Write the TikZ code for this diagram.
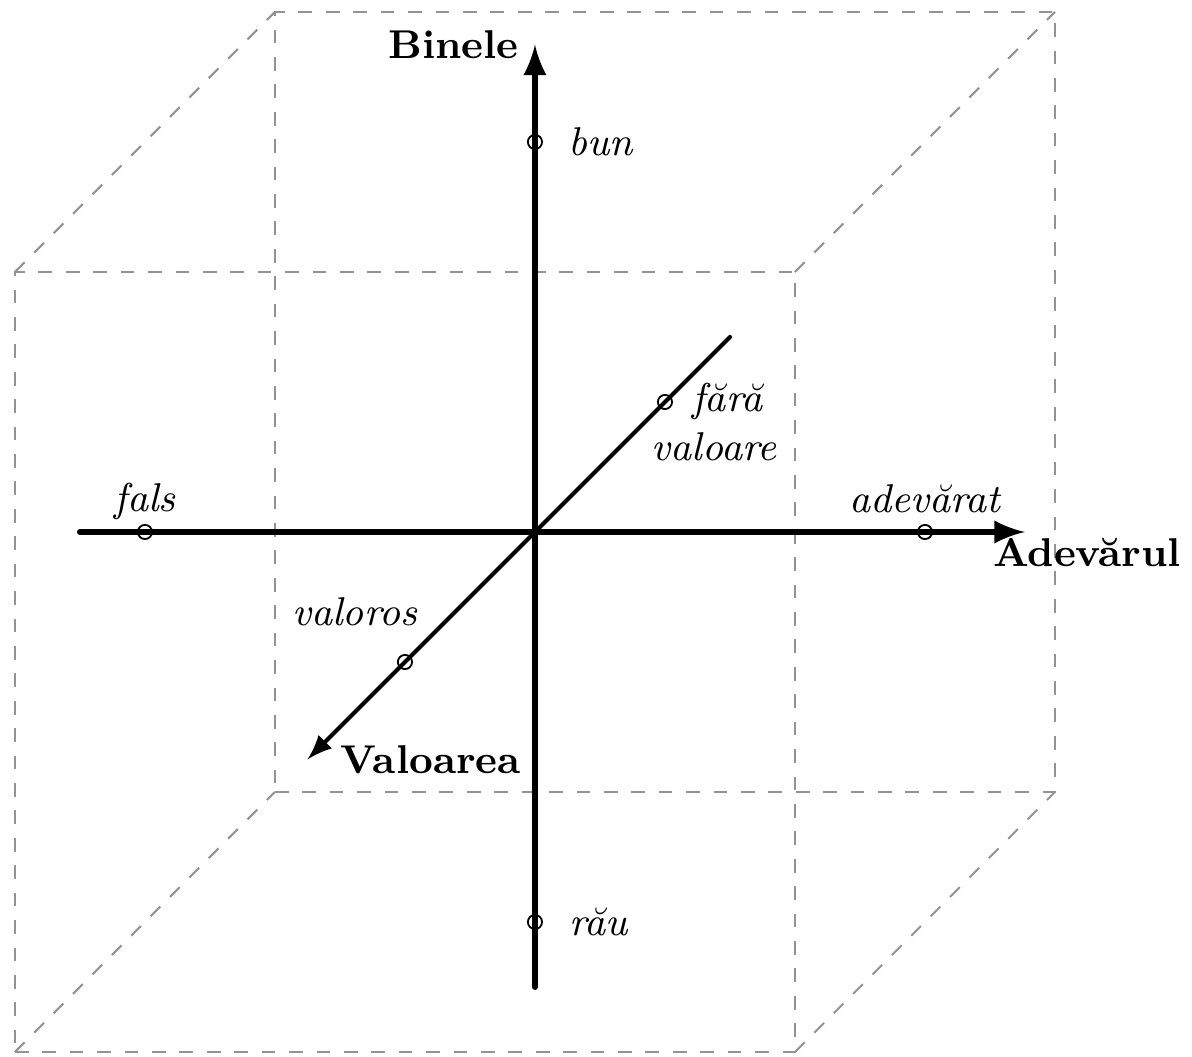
\documentclass[tikz,border=0pt]{standalone}
\usepackage{fontspec}
\begin{document}
\begin{tikzpicture}[line cap=round,>=latex,
  lbl/.style={font=\fontsize{8.8}{10.6}\selectfont\itshape},
  axlbl/.style={font=\fontsize{8.8}{10.6}\selectfont\bfseries},
  pt/.style={circle,draw,line width=0.4pt,inner sep=0pt,minimum size=3.1pt},
  cubeedge/.style={dashed,line cap=butt,gray!85,line width=0.45pt}]
  \useasboundingbox (-4.115,-4.038) rectangle (5.054,4.092);
  % cube corners
  \coordinate (fa) at (-4,-4);
  \coordinate (fb) at (2,-4);
  \coordinate (fc) at (2,2);
  \coordinate (fd) at (-4,2);
  \coordinate (ba) at (-2,-2);
  \coordinate (bb) at (4,-2);
  \coordinate (bc) at (4,4);
  \coordinate (bd) at (-2,4);
  \draw[cubeedge] (fa) -- (fb) -- (fc) -- (fd) -- cycle;
  \draw[cubeedge] (ba) -- (bb) -- (bc) -- (bd) -- cycle;
  \draw[cubeedge] (fa) -- (ba);
  \draw[cubeedge] (fb) -- (bb);
  \draw[cubeedge] (fc) -- (bc);
  \draw[cubeedge] (fd) -- (bd);
  % axes
  \coordinate (O) at (0,0);
  \coordinate (xl) at (-3.5,0);
  \coordinate (xr) at (3.77,0);
  \coordinate (yb) at (0,-3.5);
  \coordinate (yt) at (0,3.75);
  \coordinate (zb) at (1.5,1.5);
  \coordinate (zf) at (-1.75,-1.75);
  \draw[line width=1.3pt, ->] (xl) -- (xr);
  \draw[line width=1.3pt, ->] (yb) -- (yt);
  \draw[line width=0.9pt, ->] (zb) -- (zf);
  \node[axlbl, left=0pt] (binele) at (yt) {Binele};
  \node[axlbl, anchor=west] (adevarul) at (3.40,-0.16) {Adevărul};
  \node[axlbl, right=3.8pt] (valoarea) at (zf) {Valoarea};
  % values
  \node[pt] (bun) at (0,3) {};
  \node[pt] (rau) at (0,-3) {};
  \node[pt] (fals) at (-3,0) {};
  \node[pt] (adevarat) at (3,0) {};
  \node[pt] (faraval) at (1,1) {};
  \node[pt] (valoros) at (-1,-1) {};
  \node[lbl, right=3.8pt] (bunlbl) at (bun) {bun};
  \node[lbl, right=4pt] (raulbl) at (rau) {rău};
  \node[lbl, above=-0.8pt] (falslbl) at (fals) {fals};
  \node[lbl, above=0.6pt] (adevaratlbl) at (adevarat) {adevărat};
  \node[lbl, align=center, xshift=0.38cm, yshift=-0.154cm] (faravallbl) at (faraval) {\hspace*{0.2cm}fără\\valoare};
  \node[lbl, anchor=south east, xshift=0.22cm, yshift=0.15cm] (valoroslbl) at (valoros) {valoros};
\end{tikzpicture}
\end{document}
